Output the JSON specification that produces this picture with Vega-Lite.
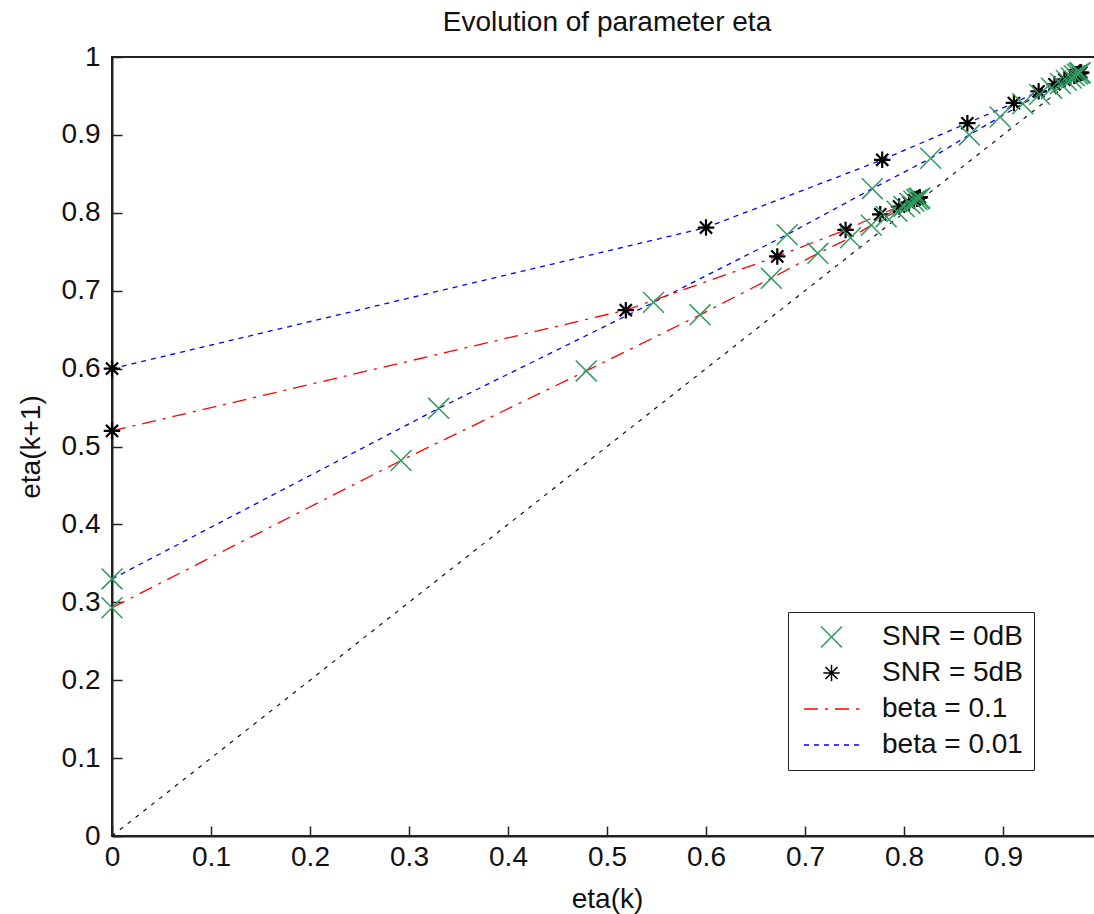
{
  "$schema": "https://vega.github.io/schema/vega-lite/v6.json",
  "width": 990,
  "height": 779,
  "autosize": {"type": "none"},
  "padding": {"left": 112, "top": 57, "right": 0, "bottom": 78},
  "background": "white",
  "title": {"text": "Evolution of parameter eta", "fontSize": 28, "font": "Liberation Sans", "fontWeight": "normal", "color": "#111111", "anchor": "middle", "offset": 6, "frame": "group"},
  "config": {
    "view": {"stroke": "#222222", "strokeWidth": 2},
    "axis": {"grid": false, "labelFlush": false, "domainColor": "#222222", "domainWidth": 2, "tickColor": "#222222", "tickWidth": 1.5, "tickSize": -10, "labelFont": "Liberation Sans", "labelFontSize": 28, "labelColor": "#111111", "titleFont": "Liberation Sans", "titleFontSize": 28, "titleFontWeight": "normal", "titleColor": "#111111"},
    "legend": {"orient": "none", "legendX": 676, "legendY": 555, "strokeColor": "#222222", "fillColor": "white", "padding": 11, "labelFont": "Liberation Sans", "labelFontSize": 28, "labelColor": "#111111", "symbolSize": 3025, "symbolStrokeWidth": 1.5, "symbolOffset": 4, "labelOffset": 22, "rowPadding": 8, "clipHeight": 28, "labelLimit": 400}
  },
  "datasets": {
    "diag": [{"x": 0, "y": 0}, {"x": 0.98, "y": 0.98}],
    "traj": [
      {"s": "A", "k": 0, "x": 0, "y": 0.600, "beta": "beta = 0.01", "snr": "SNR = 5dB"},
      {"s": "A", "k": 1, "x": 0.600, "y": 0.781, "beta": "beta = 0.01", "snr": "SNR = 5dB"},
      {"s": "A", "k": 2, "x": 0.778, "y": 0.868, "beta": "beta = 0.01", "snr": "SNR = 5dB"},
      {"s": "A", "k": 3, "x": 0.864, "y": 0.915, "beta": "beta = 0.01", "snr": "SNR = 5dB"},
      {"s": "A", "k": 4, "x": 0.911, "y": 0.941, "beta": "beta = 0.01", "snr": "SNR = 5dB"},
      {"s": "A", "k": 5, "x": 0.936, "y": 0.956, "beta": "beta = 0.01", "snr": "SNR = 5dB"},
      {"s": "A", "k": 6, "x": 0.952, "y": 0.965, "beta": "beta = 0.01", "snr": "SNR = 5dB"},
      {"s": "A", "k": 7, "x": 0.962, "y": 0.971, "beta": "beta = 0.01", "snr": "SNR = 5dB"},
      {"s": "A", "k": 8, "x": 0.968, "y": 0.974, "beta": "beta = 0.01", "snr": "SNR = 5dB"},
      {"s": "A", "k": 9, "x": 0.972, "y": 0.976, "beta": "beta = 0.01", "snr": "SNR = 5dB"},
      {"s": "A", "k": 10, "x": 0.975, "y": 0.978, "beta": "beta = 0.01", "snr": "SNR = 5dB"},
      {"s": "A", "k": 11, "x": 0.977, "y": 0.979, "beta": "beta = 0.01", "snr": "SNR = 5dB"},
      {"s": "A", "k": 12, "x": 0.978, "y": 0.980, "beta": "beta = 0.01", "snr": "SNR = 5dB"},
      {"s": "A", "k": 13, "x": 0.979, "y": 0.980, "beta": "beta = 0.01", "snr": "SNR = 5dB"},
      {"s": "B", "k": 0, "x": 0, "y": 0.330, "beta": "beta = 0.01", "snr": "SNR = 0dB"},
      {"s": "B", "k": 1, "x": 0.330, "y": 0.549, "beta": "beta = 0.01", "snr": "SNR = 0dB"},
      {"s": "B", "k": 2, "x": 0.547, "y": 0.685, "beta": "beta = 0.01", "snr": "SNR = 0dB"},
      {"s": "B", "k": 3, "x": 0.682, "y": 0.772, "beta": "beta = 0.01", "snr": "SNR = 0dB"},
      {"s": "B", "k": 4, "x": 0.768, "y": 0.831, "beta": "beta = 0.01", "snr": "SNR = 0dB"},
      {"s": "B", "k": 5, "x": 0.827, "y": 0.870, "beta": "beta = 0.01", "snr": "SNR = 0dB"},
      {"s": "B", "k": 6, "x": 0.866, "y": 0.900, "beta": "beta = 0.01", "snr": "SNR = 0dB"},
      {"s": "B", "k": 7, "x": 0.897, "y": 0.923, "beta": "beta = 0.01", "snr": "SNR = 0dB"},
      {"s": "B", "k": 8, "x": 0.920, "y": 0.940, "beta": "beta = 0.01", "snr": "SNR = 0dB"},
      {"s": "B", "k": 9, "x": 0.937, "y": 0.952, "beta": "beta = 0.01", "snr": "SNR = 0dB"},
      {"s": "B", "k": 10, "x": 0.949, "y": 0.960, "beta": "beta = 0.01", "snr": "SNR = 0dB"},
      {"s": "B", "k": 11, "x": 0.958, "y": 0.966, "beta": "beta = 0.01", "snr": "SNR = 0dB"},
      {"s": "B", "k": 12, "x": 0.964, "y": 0.970, "beta": "beta = 0.01", "snr": "SNR = 0dB"},
      {"s": "B", "k": 13, "x": 0.969, "y": 0.973, "beta": "beta = 0.01", "snr": "SNR = 0dB"},
      {"s": "B", "k": 14, "x": 0.972, "y": 0.976, "beta": "beta = 0.01", "snr": "SNR = 0dB"},
      {"s": "B", "k": 15, "x": 0.975, "y": 0.978, "beta": "beta = 0.01", "snr": "SNR = 0dB"},
      {"s": "B", "k": 16, "x": 0.977, "y": 0.979, "beta": "beta = 0.01", "snr": "SNR = 0dB"},
      {"s": "B", "k": 17, "x": 0.978, "y": 0.980, "beta": "beta = 0.01", "snr": "SNR = 0dB"},
      {"s": "C", "k": 0, "x": 0, "y": 0.520, "beta": "beta = 0.1", "snr": "SNR = 5dB"},
      {"s": "C", "k": 1, "x": 0.519, "y": 0.675, "beta": "beta = 0.1", "snr": "SNR = 5dB"},
      {"s": "C", "k": 2, "x": 0.672, "y": 0.744, "beta": "beta = 0.1", "snr": "SNR = 5dB"},
      {"s": "C", "k": 3, "x": 0.741, "y": 0.778, "beta": "beta = 0.1", "snr": "SNR = 5dB"},
      {"s": "C", "k": 4, "x": 0.776, "y": 0.798, "beta": "beta = 0.1", "snr": "SNR = 5dB"},
      {"s": "C", "k": 5, "x": 0.795, "y": 0.808, "beta": "beta = 0.1", "snr": "SNR = 5dB"},
      {"s": "C", "k": 6, "x": 0.805, "y": 0.813, "beta": "beta = 0.1", "snr": "SNR = 5dB"},
      {"s": "C", "k": 7, "x": 0.810, "y": 0.816, "beta": "beta = 0.1", "snr": "SNR = 5dB"},
      {"s": "C", "k": 8, "x": 0.813, "y": 0.818, "beta": "beta = 0.1", "snr": "SNR = 5dB"},
      {"s": "C", "k": 9, "x": 0.815, "y": 0.819, "beta": "beta = 0.1", "snr": "SNR = 5dB"},
      {"s": "C", "k": 10, "x": 0.816, "y": 0.820, "beta": "beta = 0.1", "snr": "SNR = 5dB"},
      {"s": "D", "k": 0, "x": 0, "y": 0.293, "beta": "beta = 0.1", "snr": "SNR = 0dB"},
      {"s": "D", "k": 1, "x": 0.292, "y": 0.482, "beta": "beta = 0.1", "snr": "SNR = 0dB"},
      {"s": "D", "k": 2, "x": 0.479, "y": 0.597, "beta": "beta = 0.1", "snr": "SNR = 0dB"},
      {"s": "D", "k": 3, "x": 0.594, "y": 0.669, "beta": "beta = 0.1", "snr": "SNR = 0dB"},
      {"s": "D", "k": 4, "x": 0.666, "y": 0.716, "beta": "beta = 0.1", "snr": "SNR = 0dB"},
      {"s": "D", "k": 5, "x": 0.713, "y": 0.748, "beta": "beta = 0.1", "snr": "SNR = 0dB"},
      {"s": "D", "k": 6, "x": 0.746, "y": 0.768, "beta": "beta = 0.1", "snr": "SNR = 0dB"},
      {"s": "D", "k": 7, "x": 0.767, "y": 0.784, "beta": "beta = 0.1", "snr": "SNR = 0dB"},
      {"s": "D", "k": 8, "x": 0.782, "y": 0.795, "beta": "beta = 0.1", "snr": "SNR = 0dB"},
      {"s": "D", "k": 9, "x": 0.793, "y": 0.802, "beta": "beta = 0.1", "snr": "SNR = 0dB"},
      {"s": "D", "k": 10, "x": 0.800, "y": 0.808, "beta": "beta = 0.1", "snr": "SNR = 0dB"},
      {"s": "D", "k": 11, "x": 0.806, "y": 0.812, "beta": "beta = 0.1", "snr": "SNR = 0dB"},
      {"s": "D", "k": 12, "x": 0.810, "y": 0.815, "beta": "beta = 0.1", "snr": "SNR = 0dB"},
      {"s": "D", "k": 13, "x": 0.813, "y": 0.817, "beta": "beta = 0.1", "snr": "SNR = 0dB"},
      {"s": "D", "k": 14, "x": 0.815, "y": 0.818, "beta": "beta = 0.1", "snr": "SNR = 0dB"},
      {"s": "D", "k": 15, "x": 0.816, "y": 0.819, "beta": "beta = 0.1", "snr": "SNR = 0dB"}
    ]
  },
  "encoding": {
    "x": {"field": "x", "type": "quantitative", "scale": {"domain": [0, 1], "nice": false, "zero": false}, "axis": {"title": "eta(k)", "values": [0, 0.1, 0.2, 0.3, 0.4, 0.5, 0.6, 0.7, 0.8, 0.9], "format": ".1~f", "labelPadding": 17, "titlePadding": 14}},
    "y": {"field": "y", "type": "quantitative", "scale": {"domain": [0, 1], "nice": false, "zero": false}, "axis": {"title": "eta(k+1)", "values": [0, 0.1, 0.2, 0.3, 0.4, 0.5, 0.6, 0.7, 0.8, 0.9, 1], "format": ".1~f", "labelPadding": 22, "titlePadding": 16}}
  },
  "layer": [
    {"data": {"name": "diag"}, "mark": {"type": "line", "color": "#111111", "strokeWidth": 1.2, "strokeDash": [4, 6]}, "encoding": {}},
    {
      "data": {"name": "traj"},
      "mark": {"type": "line", "strokeWidth": 1.3},
      "encoding": {
        "color": {"field": "beta", "type": "nominal", "scale": {"domain": ["SNR = 0dB", "SNR = 5dB", "beta = 0.1", "beta = 0.01"], "range": ["#2f9a5f", "#000000", "#ff0000", "#0000ff"]}, "legend": {"title": null}},
        "strokeDash": {"field": "beta", "type": "nominal", "scale": {"domain": ["SNR = 0dB", "SNR = 5dB", "beta = 0.1", "beta = 0.01"], "range": [[1, 0], [1, 0], [14, 7, 3, 7], [5, 5]]}, "legend": {"title": null}},
        "detail": {"field": "s"},
        "order": {"field": "k", "type": "quantitative"}
      }
    },
    {
      "data": {"name": "traj"},
      "mark": {"type": "point", "filled": false, "size": 3025, "opacity": 1},
      "encoding": {
        "color": {"field": "snr", "type": "nominal", "scale": {"domain": ["SNR = 0dB", "SNR = 5dB", "beta = 0.1", "beta = 0.01"], "range": ["#2f9a5f", "#000000", "#ff0000", "#0000ff"]}, "legend": {"title": null}},
        "shape": {"field": "snr", "type": "nominal", "scale": {"domain": ["SNR = 0dB", "SNR = 5dB", "beta = 0.1", "beta = 0.01"], "range": ["M-0.38,-0.38L0.38,0.38M0.38,-0.38L-0.38,0.38", "M-0.3,0L0.3,0M0,-0.3L0,0.3M-0.22,-0.22L0.22,0.22M-0.22,0.22L0.22,-0.22", "stroke", "stroke"]}, "legend": {"title": null}},
        "strokeWidth": {"field": "snr", "type": "nominal", "scale": {"domain": ["SNR = 0dB", "SNR = 5dB"], "range": [1.5, 2.2]}, "legend": null}
      }
    }
  ]
}
